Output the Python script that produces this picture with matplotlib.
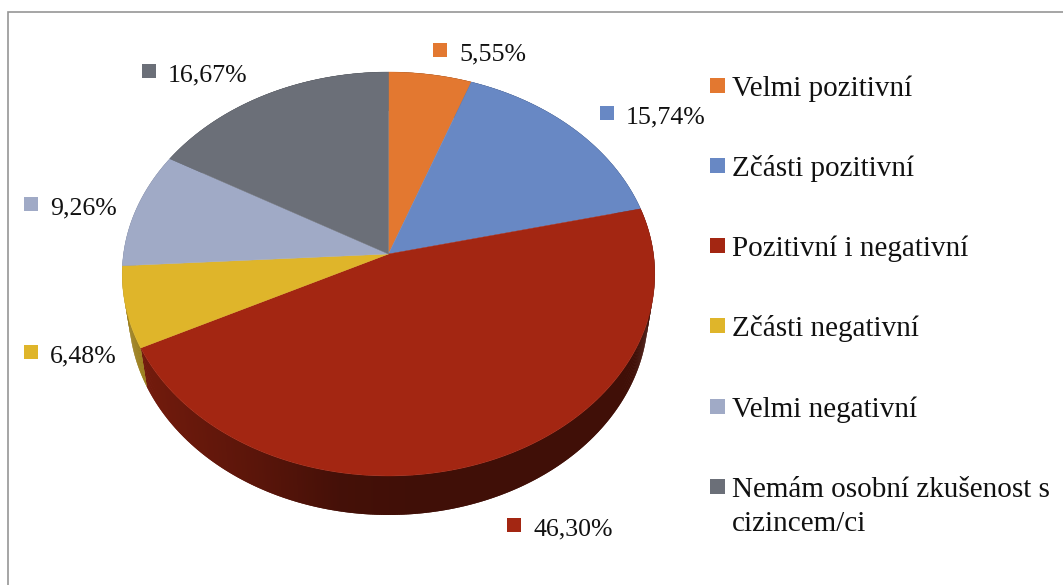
import numpy as np
import matplotlib
matplotlib.use("Agg")
import matplotlib.pyplot as plt
from matplotlib.patches import Rectangle
from matplotlib.colors import to_rgb

categories = ["Velmi pozitivní", "Zčásti pozitivní", "Pozitivní i negativní",
              "Zčásti negativní", "Velmi negativní",
              "Nemám osobní zkušenost s\ncizincem/ci"]
values = [5.55, 15.74, 46.30, 6.48, 9.26, 16.67]
colors = ["#E37830", "#6888C4", "#A32612", "#DFB52A", "#A0AAC6", "#6B6F78"]

# layout, in image pixels
label_squares = [(433, 43), (600, 106), (507, 518), (24, 345), (24, 197), (142, 64)]
legend_square_tops = [78, 158, 238, 318, 399, 479]
CX, CY, A, B, P, DEPTH, TAPER = 388.5, 254.0, 265.0, 200.0, 0.099, 39.0, 0.975

plt.rcParams["font.family"] = "Liberation Serif"
W, H = 1063, 585
fig = plt.figure(figsize=(W / 100, H / 100), dpi=100)
ax = fig.add_axes([0, 0, 1, 1])
ax.set_xlim(0, W)
ax.set_ylim(H, 0)
ax.axis("off")


def project(theta):
    """Perspective view of the unit disc; theta runs clockwise from the top."""
    x, y = np.sin(theta), np.cos(theta)
    d = 1 + P * y
    return CX + A * x / d, CY - B * y / d


fractions = np.cumsum([0] + values) / sum(values)
edges = 2 * np.pi * fractions

# side wall: strips overlap the next one so no seams show
for i, col in enumerate(colors):
    n = max(int(values[i] * 8), 4)
    th = np.linspace(edges[i], edges[i + 1], n + 1)
    px, py = project(th)
    qx = CX + TAPER * (px - CX)
    qy = py + DEPTH
    base = np.array(to_rgb(col))
    order = range(n - 1, -1, -1) if i >= 3 else range(n)
    for j in order:
        j2 = max(j - 1, 0) if i >= 3 else j
        j3 = j + 1 if i >= 3 else min(j + 2, n)
        mid = (px[j] + px[j + 1]) / 2
        shade = np.interp(mid, [142, 250, 340, 420, 655], [0.70, 0.56, 0.42, 0.39, 0.39])
        c = base * shade
        ax.fill([px[j2], px[j3], qx[j3], qx[j2]],
                [py[j2], py[j3], qy[j3], qy[j2]],
                color=c, lw=0, zorder=2)

# top face
for i, col in enumerate(colors):
    th = np.linspace(edges[i], edges[i + 1], 200)
    px, py = project(th)
    ax.fill(np.r_[CX, px], np.r_[CY, py], color=col, lw=0.3, zorder=3)

# frame (top and left only)
ax.plot([8, 8, W], [H, 12, 12], color="#969696", lw=1.2, zorder=1, solid_joinstyle="miter")

# data labels
for (sx, sy), v, col in zip(label_squares, values, colors):
    ax.add_patch(Rectangle((sx, sy), 14, 14, color=col, lw=0, zorder=4))
    ax.text(sx + 26, sy + 17, f"{v:.2f}%".replace(".", ","), fontsize=18.6,
            va="baseline", ha="left", color="#111111", zorder=5)

# legend
for top, cat, col in zip(legend_square_tops, categories, colors):
    ax.add_patch(Rectangle((710, top), 15, 15, color=col, lw=0, zorder=4))
    lines = cat.split("\n")
    for k, line in enumerate(lines):
        ax.text(732, top + 18 + 34 * k, line, fontsize=21,
                va="baseline", ha="left", color="#111111", zorder=5)

fig.savefig("out.png", dpi=100)
